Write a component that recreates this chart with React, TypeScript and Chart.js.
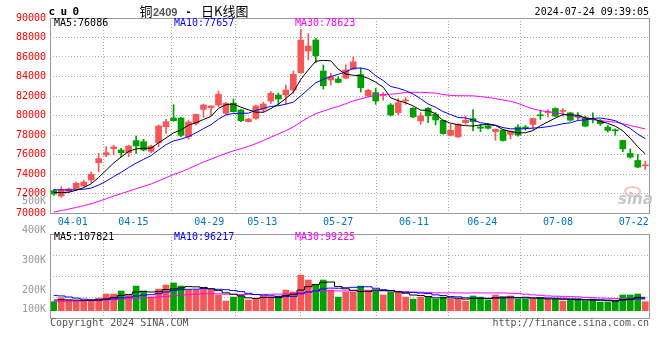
import React, { useEffect, useRef } from 'react';
import { Chart, registerables } from 'chart.js';

Chart.register(...registerables);

const MONO = "'DejaVu Sans Mono', 'Liberation Mono', monospace";
const CJK = "'Noto Sans CJK SC', sans-serif";
const SANS = "'Liberation Sans', Arial, sans-serif";
const K_MONO = 0.846;
const K_CJK = 0.936;
const K_SANS = 0.8465;

const RED = '#f65656';
const GREEN = '#00a000';
const GRID = '#ababab';
const FRAME = '#999999';

// ---- data ----
const dates = [
  '03-27', '03-28', '03-29', '04-01', '04-02', '04-03', '04-08', '04-09', '04-10', '04-11',
  '04-12', '04-15', '04-16', '04-17', '04-18', '04-19', '04-22', '04-23', '04-24', '04-25',
  '04-26', '04-29', '04-30', '05-06', '05-07', '05-08', '05-09', '05-10', '05-13', '05-14',
  '05-15', '05-16', '05-17', '05-20', '05-21', '05-22', '05-23', '05-24', '05-27', '05-28',
  '05-29', '05-30', '05-31', '06-03', '06-04', '06-05', '06-06', '06-07', '06-11', '06-12',
  '06-13', '06-14', '06-17', '06-18', '06-19', '06-20', '06-21', '06-24', '06-25', '06-26',
  '06-27', '06-28', '07-01', '07-02', '07-03', '07-04', '07-05', '07-08', '07-09', '07-10',
  '07-11', '07-12', '07-15', '07-16', '07-17', '07-18', '07-19', '07-22', '07-23', '07-24',
];

const opens = [
  72290, 71743, 72221, 72461, 72768, 73384, 75162, 75948, 76598, 76461,
  76187, 77418, 77316, 76324, 77213, 78855, 79743, 79743, 77829, 79200,
  80631, 80802, 81075, 80221, 81246, 80563, 79366, 79708, 80631, 81486,
  82101, 82101, 82614, 84392, 86614, 87742, 84563, 83640, 83743, 83830,
  84750, 84200, 82006, 82348, 82040, 81083, 80297, 81493, 80741, 79442,
  80741, 80126, 79510, 77972, 77801, 79270, 79681, 78827, 78929, 78348,
  78500, 78054, 78806, 78780, 79080, 80040, 80310, 80721, 80420, 80277,
  79950, 79764, 79630, 79422, 78806, 78500, 77440, 76105, 75387, 74840,
];
const highs = [
  72400, 72700, 72563, 73178, 73384, 74204, 76119, 76803, 76974, 76632,
  76950, 77897, 77555, 76974, 79025, 79606, 81111, 79800, 79538, 80150,
  81178, 81020, 82511, 81349, 81691, 80631, 79700, 81075, 81349, 82443,
  82272, 83128, 84563, 88850, 88400, 87900, 85178, 84323, 83982, 85200,
  86000, 84880, 82690, 82793, 82348, 81220, 81733, 81835, 80810, 80297,
  80810, 80297, 79540, 79100, 79168, 79955, 80600, 79100, 79168, 78620,
  78570, 78430, 79080, 78977, 79730, 80550, 80618, 80790, 80720, 80345,
  80300, 79935, 80277, 79593, 78977, 78635, 77480, 76584, 76003, 75319,
];
const lows = [
  71800, 71606, 72085, 72426, 72700, 73110, 74238, 75777, 75948, 75777,
  75777, 76119, 76358, 76187, 76803, 78170, 79400, 77829, 77555, 79000,
  79810, 79981, 80905, 80118, 80350, 79366, 79330, 79605, 80323, 81246,
  81075, 81178, 82272, 84323, 85700, 85400, 82716, 83127, 83350, 83780,
  84700, 82400, 81904, 81151, 81562, 79955, 80057, 81151, 79784, 79100,
  79271, 79032, 78074, 77903, 77750, 79100, 78416, 78348, 78587, 77459,
  77370, 77610, 77884, 78499, 78567, 79593, 79866, 79866, 79935, 79420,
  79600, 78840, 79251, 78977, 78294, 77986, 76276, 75627, 74650, 74465,
];
const closes = [
  71950, 72358, 72461, 73042, 73178, 73965, 75572, 76187, 76769, 76187,
  76871, 76871, 76461, 76871, 78923, 79367, 79470, 77965, 79333, 80120,
  81075, 80973, 82170, 81246, 80392, 79469, 79640, 80973, 81178, 82272,
  81691, 82614, 84221, 87742, 87127, 86136, 83059, 83982, 83401, 84680,
  85500, 82850, 82587, 81493, 82109, 80057, 81322, 81562, 79852, 79955,
  79955, 79544, 78143, 78485, 79100, 79510, 79373, 78690, 78690, 78587,
  77440, 78396, 77986, 78720, 79695, 79970, 80380, 79935, 80470, 79524,
  79870, 78909, 79560, 79148, 78464, 78430, 76580, 75729, 74704, 74900,
];
const volumes = [
  72800, 105000, 86000, 78000, 78000, 86000, 102000, 135000, 135000, 159000,
  127000, 199000, 159000, 113000, 175000, 208000, 224000, 199000, 167000, 167000,
  183000, 167000, 127000, 78000, 110000, 119000, 86000, 102000, 119000, 110000,
  119000, 167000, 151000, 288000, 248000, 208000, 248000, 167000, 110000, 151000,
  151000, 199000, 167000, 167000, 127000, 151000, 151000, 110000, 94000, 110000,
  110000, 94000, 110000, 94000, 94000, 78000, 119000, 110000, 86000, 127000,
  110000, 119000, 94000, 94000, 94000, 102000, 94000, 94000, 78000, 86000,
  94000, 78000, 94000, 70000, 70000, 78000, 127000, 127000, 135000, 73000,
];
// sessions before the visible window (only used by the moving averages)
const priorCloses = [
  67600, 67800, 68000, 67700, 68100, 68300, 68200, 68500, 68900, 69200,
  69100, 69300, 69600, 69400, 69500, 69700, 69800, 69600, 70000, 70600,
  72300, 72700, 72800, 72700, 72710, 72500, 72300, 72000, 71840,
];
const priorVolumes = [
  35000, 38000, 40000, 36000, 42000, 45000, 40000, 44000, 48000, 46000,
  50000, 52000, 48000, 55000, 50000, 53000, 56000, 52000, 58000, 62000,
  150000, 175000, 168000, 160000, 157000, 95000, 88000, 90000, 84000,
];

const dateTickLabels = ['04-01', '04-15', '04-29', '05-13', '05-27', '06-11', '06-24', '07-08', '07-22'];
const datesWithoutGrid = ['07-22'];
const priceMaLabels = ['MA5:76086', 'MA10:77657', 'MA30:78623'];
const volMaLabels = ['MA5:107821', 'MA10:96217', 'MA30:99225'];
const maColors = ['#000000', '#0000ff', '#ff00ff'];
const maPeriods = [5, 10, 30];
const volAxisLabels = ['500K', '400K', '300K', '200K', '100K'];
const volAxisLabelBases = [204, 233.3, 263.3, 293.3, 312.7];

const PRICE_MIN = 70000;
const PRICE_MAX = 90000;
const PRICE_STEP = 2000;
const VOL_AXIS_MIN = -59000;
const VOL_AXIS_MAX = 620000;

function movingAverage(prior: number[], values: number[], n: number): number[] {
  const all = prior.concat(values);
  return values.map((_, i) => {
    const end = prior.length + i;
    let s = 0;
    for (let k = end - n + 1; k <= end; k++) s += all[k];
    return s / n;
  });
}

const candleColors = closes.map((c, i) => (c >= opens[i] ? RED : GREEN));

const framePlugin = {
  id: 'frame',
  afterDraw(chart: any) {
    const { ctx, chartArea } = chart;
    const l = Math.round(chartArea.left);
    const t = Math.round(chartArea.top);
    const r = Math.round(chartArea.right);
    const b = Math.round(chartArea.bottom);
    ctx.save();
    ctx.strokeStyle = FRAME;
    ctx.lineWidth = 1;
    ctx.strokeRect(l + 0.5, t + 0.5, r - l, b - t);
    ctx.restore();
  },
};

function candleAxis() {
  return { type: 'linear', axis: 'x', display: false, min: -0.5, max: dates.length - 0.5, offset: false };
}

function dateAxis(showLabels: boolean) {
  const tickIdx = dateTickLabels.map((d) => dates.indexOf(d));
  return {
    type: 'linear',
    axis: 'x',
    position: 'bottom',
    min: 0,
    max: dates.length - 1,
    offset: false,
    afterBuildTicks: (s: any) => {
      s.ticks = tickIdx.map((v) => ({ value: v }));
    },
    afterFit: (s: any) => {
      s.height = showLabels ? 19 : 0;
    },
    ticks: {
      display: showLabels,
      autoSkip: false,
      maxRotation: 0,
      minRotation: 0,
      padding: 3,
      color: '#0075c8',
      font: { family: MONO, size: 10 },
      callback: (v: any) => dates[Math.round(Number(v))],
    },
    grid: {
      drawTicks: false,
      lineWidth: 1,
      color: (ctx: any) =>
        ctx.tick && datesWithoutGrid.includes(dates[Math.round(ctx.tick.value)]) ? 'rgba(0,0,0,0)' : GRID,
    },
    border: { display: false, dash: [1, 2] },
  };
}

function maDatasets(prior: number[], values: number[], stepped: boolean) {
  return maPeriods.map((n, k) => ({
    type: 'line',
    label: 'MA' + n,
    data: movingAverage(prior, values, n).map((y, x) => ({ x, y })),
    borderColor: maColors[k],
    borderWidth: 1,
    pointRadius: 0,
    tension: 0,
    stepped: stepped ? 'middle' : false,
    xAxisID: 'x',
    yAxisID: 'y',
    order: 0,
  }));
}

type TxtProps = {
  x: number;
  base: number;
  size: number;
  font: string;
  k: number;
  color?: string;
  weight?: string | number;
  italic?: boolean;
  ls?: number;
  align?: 'left' | 'right';
  children: React.ReactNode;
};

function Txt({ x, base, size, font, k, color = '#000', weight = 'normal', italic = false, ls = 0, align = 'left', children }: TxtProps) {
  const style: React.CSSProperties = {
    position: 'absolute',
    top: base - k * size,
    fontFamily: font,
    fontSize: size,
    lineHeight: `${size}px`,
    color,
    fontWeight: weight as any,
    fontStyle: italic ? 'italic' : 'normal',
    letterSpacing: ls,
    whiteSpace: 'pre',
  };
  if (align === 'right') style.right = 660 - x;
  else style.left = x;
  return <div style={style}>{children}</div>;
}

export default function App() {
  const priceRef = useRef<HTMLCanvasElement | null>(null);
  const volRef = useRef<HTMLCanvasElement | null>(null);

  useEffect(() => {
    const priceChart = new Chart(priceRef.current as HTMLCanvasElement, {
      type: 'bar',
      data: {
        datasets: [
          ...maDatasets(priorCloses, closes, false),
          {
            type: 'bar',
            label: 'body',
            data: opens.map((o, i) => ({ x: i, y: [o, closes[i]] })),
            backgroundColor: candleColors,
            barThickness: 6,
            minBarLength: 1,
            grouped: false,
            xAxisID: 'x',
            yAxisID: 'y',
            order: 1,
          },
          {
            type: 'bar',
            label: 'wick',
            data: lows.map((l, i) => ({ x: i, y: [l, highs[i]] })),
            backgroundColor: candleColors,
            barThickness: 1,
            grouped: false,
            xAxisID: 'x',
            yAxisID: 'y',
            order: 2,
          },
        ],
      },
      options: {
        responsive: false,
        animation: false,
        events: [],
        layout: { padding: { left: 0, right: 11, top: 18, bottom: 0 } },
        plugins: { legend: { display: false }, tooltip: { enabled: false } },
        scales: {
          x: candleAxis(),
          xd: dateAxis(true),
          y: {
            type: 'linear',
            position: 'left',
            min: PRICE_MIN,
            max: PRICE_MAX,
            afterFit: (s: any) => {
              s.width = 50;
            },
            ticks: {
              stepSize: PRICE_STEP,
              color: '#ff0000',
              padding: 4,
              font: { family: MONO, size: 10 },
              callback: (v: any) => String(v),
            },
            grid: { drawTicks: false, color: GRID, lineWidth: 1 },
            border: { display: false, dash: [1, 2] },
          },
        },
      } as any,
      plugins: [framePlugin],
    } as any);

    const volChart = new Chart(volRef.current as HTMLCanvasElement, {
      type: 'bar',
      data: {
        datasets: [
          ...maDatasets(priorVolumes, volumes, true),
          {
            type: 'bar',
            label: 'volume',
            data: volumes.map((v, i) => ({ x: i, y: v })),
            backgroundColor: candleColors,
            barThickness: 6,
            grouped: false,
            xAxisID: 'x',
            yAxisID: 'y',
            order: 1,
          },
        ],
      },
      options: {
        responsive: false,
        animation: false,
        events: [],
        layout: { padding: { left: 0, right: 11, top: 6, bottom: 42 } },
        plugins: { legend: { display: false }, tooltip: { enabled: false } },
        scales: {
          x: candleAxis(),
          xd: dateAxis(false),
          y: {
            type: 'linear',
            position: 'left',
            min: VOL_AXIS_MIN,
            max: VOL_AXIS_MAX,
            afterBuildTicks: (s: any) => {
              s.ticks = [0, 1, 2, 3, 4].map((k) => ({ value: VOL_AXIS_MIN + (k * (VOL_AXIS_MAX - VOL_AXIS_MIN)) / 4 }));
            },
            afterFit: (s: any) => {
              s.width = 50;
            },
            ticks: { display: false },
            grid: { drawTicks: false, color: GRID, lineWidth: 1 },
            border: { display: false, dash: [1, 2] },
          },
        },
      } as any,
      plugins: [framePlugin],
    } as any);

    return () => {
      priceChart.destroy();
      volChart.destroy();
    };
  }, []);

  const maXs = [54, 174, 295];

  return (
    <div style={{ position: 'absolute', left: 0, top: 0, width: 660, height: 360, background: '#ffffff', overflow: 'hidden' }}>
      <canvas ref={priceRef} width={660} height={232} style={{ position: 'absolute', left: 0, top: 0 }} />
      <canvas ref={volRef} width={660} height={132} style={{ position: 'absolute', left: 0, top: 228 }} />

      <Txt x={48.5} base={15.7} size={11} font={MONO} k={K_MONO} weight="bold" ls={5.4}>cu0</Txt>
      <Txt x={139.5} base={16} size={13} font={CJK} k={K_CJK}>铜</Txt>
      <Txt x={153} base={16} size={11} font={SANS} k={K_SANS} weight="bold" color="#555">2409</Txt>
      <Txt x={186.5} base={16} size={12} font={SANS} k={K_SANS} weight="bold">-</Txt>
      <Txt x={201} base={16} size={13} font={CJK} k={K_CJK}>日K线图</Txt>
      <Txt x={649} base={15} size={10} font={MONO} k={K_MONO} align="right">2024-07-24 09:39:05</Txt>

      {priceMaLabels.map((t, i) => (
        <Txt key={'p' + i} x={maXs[i]} base={26.7} size={10} font={MONO} k={K_MONO} color={maColors[i]}>{t}</Txt>
      ))}
      {volMaLabels.map((t, i) => (
        <Txt key={'v' + i} x={maXs[i]} base={240.7} size={10} font={MONO} k={K_MONO} color={maColors[i]}>{t}</Txt>
      ))}
      {volAxisLabels.map((t, i) => (
        <Txt key={'a' + i} x={46} base={volAxisLabelBases[i]} size={10} font={MONO} k={K_MONO} color="#999999" align="right">{t}</Txt>
      ))}

      <Txt x={50} base={326.7} size={10} font={MONO} k={K_MONO} color="#555555">Copyright 2024 SINA.COM</Txt>
      <Txt x={649} base={326.7} size={10} font={MONO} k={K_MONO} color="#555555" align="right">http://finance.sina.com.cn</Txt>

      <div style={{ position: 'absolute', left: 624, top: 186, width: 13, height: 7, border: '2px solid rgba(240,140,140,0.5)', borderRadius: '50%' }} />
      <Txt x={618} base={205} size={15} font="'DejaVu Sans', sans-serif" k={K_MONO} weight="bold" italic color="#c6c6c6">sina</Txt>
    </div>
  );
}
